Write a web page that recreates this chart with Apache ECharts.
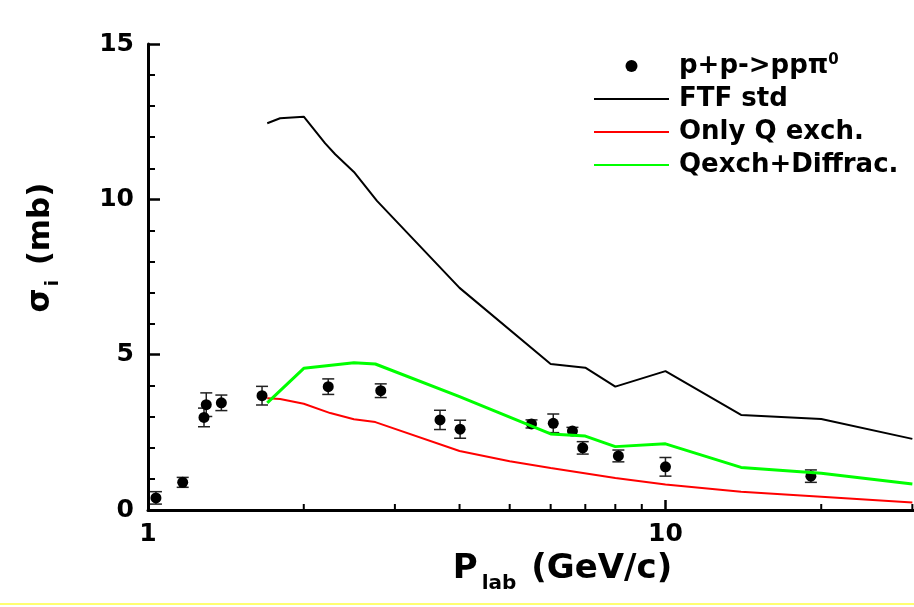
<!DOCTYPE html>
<html>
<head>
<meta charset="utf-8">
<script src="https://cdn.jsdelivr.net/npm/echarts@6/dist/echarts.min.js"></script>
<style>
  html, body { margin: 0; padding: 0; background: #ffffff; }
  #chart { width: 914px; height: 607px; }
</style>
</head>
<body>
<div id="chart"></div>
<script>
// Measured p+p -> pp pi0 cross sections (mb) vs beam momentum (GeV/c)
const dataP     = [1.036, 1.167, 1.283, 1.296, 1.386, 1.661, 2.23, 2.817, 3.667, 4.01, 5.51, 6.07, 6.61, 6.92, 8.11, 10.0, 19.1];
const dataSigma = [0.39, 0.89, 2.98, 3.39, 3.45, 3.68, 3.97, 3.84, 2.90, 2.60, 2.77, 2.79, 2.54, 2.00, 1.74, 1.39, 1.09];
const dataErr   = [0.20, 0.16, 0.30, 0.38, 0.25, 0.30, 0.25, 0.22, 0.31, 0.29, 0.13, 0.30, 0.12, 0.20, 0.19, 0.30, 0.20];

// FTF model curves
const ftfP     = [1.70, 1.80, 2.0, 2.2, 2.3, 2.5, 2.77, 4.0, 6.0, 7.0, 8.0, 10, 14, 20, 30];
const ftfSigma = [12.45, 12.61, 12.66, 11.80, 11.45, 10.88, 9.95, 7.15, 4.70, 4.58, 3.97, 4.47, 3.06, 2.93, 2.29];

const qexP     = [1.70, 1.80, 2.0, 2.25, 2.5, 2.75, 4.0, 5.0, 6.0, 8.0, 10, 14, 20, 30];
const qexSigma = [3.60, 3.57, 3.42, 3.12, 2.92, 2.83, 1.90, 1.57, 1.35, 1.03, 0.82, 0.59, 0.43, 0.24];

const qdP      = [1.70, 2.0, 2.5, 2.75, 4.0, 6.0, 7.0, 8.0, 10, 14, 20, 30];
const qdSigma  = [3.45, 4.56, 4.74, 4.70, 3.65, 2.45, 2.38, 2.04, 2.13, 1.37, 1.18, 0.84];

// Minor tick positions on the logarithmic momentum axis
const xMinorTicks = [2, 3, 4, 5, 6, 7, 8, 9, 20, 30];

const NAME_DATA = 'p+p->pp\u03c00';
const NAME_FTF = 'FTF std';
const NAME_QEX = 'Only Q exch.';
const NAME_QD = 'Qexch+Diffrac.';

const FONT = 'DejaVu Sans';

const zip = (xs, ys) => xs.map((x, i) => [x, ys[i]]);

const chart = echarts.init(document.getElementById('chart'), null, { renderer: 'canvas' });

chart.setOption({
  animation: false,
  backgroundColor: '#ffffff',
  grid: {
    left: 148, top: 44, height: 466, width: 829,
    containLabel: false,
    outerBoundsMode: 'none'
  },
  legend: {
    orient: 'vertical',
    left: 593,
    top: 53,
    padding: 0,
    itemWidth: 75,
    itemHeight: 12,
    itemGap: 7,
    selectedMode: false,
    data: [
      { name: NAME_DATA },
      { name: NAME_FTF, itemStyle: { opacity: 0 } },
      { name: NAME_QEX, itemStyle: { opacity: 0 } },
      { name: NAME_QD, itemStyle: { opacity: 0 } }
    ],
    formatter: function (name) {
      if (name === NAME_DATA) return '{t|p+p->pp\u03c0}{sup|0}';
      return '{t|' + name + '}';
    },
    textStyle: {
      fontFamily: FONT,
      fontWeight: 'bold',
      fontSize: 26,
      color: '#000',
      padding: [0, 0, 0, 5],
      rich: {
        t: { fontFamily: FONT, fontWeight: 'bold', fontSize: 26, lineHeight: 26, color: '#000' },
        sup: { fontFamily: FONT, fontWeight: 'bold', fontSize: 15, lineHeight: 15, color: '#000', verticalAlign: 'top' }
      }
    }
  },
  xAxis: {
    type: 'log',
    logBase: 10,
    min: 1,
    max: 40,
    axisLine: { lineStyle: { color: '#000', width: 3 } },
    axisTick: { inside: true, length: 10, lineStyle: { color: '#000', width: 2.5 } },
    splitLine: { show: false },
    axisLabel: {
      fontFamily: FONT, fontWeight: 'bold', fontSize: 25, color: '#000',
      margin: 12, showMaxLabel: false
    },
    name: '{m|P}{s|lab}{m| (GeV/c)}',
    nameLocation: 'middle',
    nameGap: 36,
    nameTextStyle: {
      rich: {
        m: { fontFamily: FONT, fontWeight: 'bold', fontSize: 34, lineHeight: 42, color: '#000', verticalAlign: 'top' },
        s: { fontFamily: FONT, fontWeight: 'bold', fontSize: 20, lineHeight: 42, color: '#000', verticalAlign: 'bottom', padding: [0, 3, 0, 4] }
      }
    }
  },
  yAxis: {
    type: 'value',
    min: 0,
    max: 15,
    interval: 5,
    axisLine: { show: true, lineStyle: { color: '#000', width: 3 } },
    axisTick: { inside: true, length: 12, lineStyle: { color: '#000', width: 2.5 } },
    minorTick: { show: true, splitNumber: 5, length: 7, lineStyle: { color: '#000', width: 2 } },
    splitLine: { show: false },
    minorSplitLine: { show: false },
    axisLabel: { fontFamily: FONT, fontWeight: 'bold', fontSize: 25, color: '#000', margin: 14 },
    name: '{m|\u03c3}{s|i}{m| (mb)}',
    nameLocation: 'middle',
    nameGap: 86,
    nameTextStyle: {
      padding: [0, 0, 0, 59],
      rich: {
        m: { fontFamily: FONT, fontWeight: 'bold', fontSize: 31, lineHeight: 37, color: '#000', verticalAlign: 'top' },
        s: { fontFamily: FONT, fontWeight: 'bold', fontSize: 18, lineHeight: 37, color: '#000', verticalAlign: 'bottom', padding: [0, 4, 0, 2] }
      }
    }
  },
  graphic: [
    {
      type: 'line',
      silent: true,
      shape: { x1: 0, y1: 604, x2: 914, y2: 604 },
      style: { stroke: '#ffff70', lineWidth: 2 }
    }
  ],
  series: [
    {
      // minor ticks of the log axis at 2..9, 20, 30
      name: 'xMinor',
      type: 'custom',
      silent: true,
      clip: false,
      z: 5,
      data: xMinorTicks.map(v => [v, 0]),
      encode: { x: 0, y: 1 },
      renderItem: function (params, api) {
        const p = api.coord([api.value(0), 0]);
        return {
          type: 'line',
          shape: { x1: p[0], y1: p[1], x2: p[0], y2: p[1] - 6 },
          style: { stroke: '#000', lineWidth: 2 }
        };
      }
    },
    {
      // error bars of the measured points
      name: 'errors',
      type: 'custom',
      silent: true,
      z: 3,
      data: dataP.map((x, i) => [x, dataSigma[i] - dataErr[i], dataSigma[i] + dataErr[i]]),
      encode: { x: 0, y: [1, 2] },
      renderItem: function (params, api) {
        const lo = api.coord([api.value(0), api.value(1)]);
        const hi = api.coord([api.value(0), api.value(2)]);
        const hw = 6;
        const st = { stroke: '#222', lineWidth: 1.5 };
        return {
          type: 'group',
          children: [
            { type: 'line', shape: { x1: lo[0], y1: lo[1], x2: hi[0], y2: hi[1] }, style: st },
            { type: 'line', shape: { x1: lo[0] - hw, y1: lo[1], x2: lo[0] + hw, y2: lo[1] }, style: st },
            { type: 'line', shape: { x1: hi[0] - hw, y1: hi[1], x2: hi[0] + hw, y2: hi[1] }, style: st }
          ]
        };
      }
    },
    {
      name: NAME_DATA,
      type: 'scatter',
      symbol: 'circle',
      symbolSize: 11,
      z: 4,
      itemStyle: { color: '#000', opacity: 1 },
      data: zip(dataP, dataSigma)
    },
    {
      name: NAME_FTF,
      type: 'line',
      symbol: 'none',
      z: 6,
      lineStyle: { color: '#000', width: 2 },
      itemStyle: { color: '#000' },
      data: zip(ftfP, ftfSigma)
    },
    {
      name: NAME_QEX,
      type: 'line',
      symbol: 'none',
      z: 6,
      lineStyle: { color: '#ff0000', width: 2 },
      itemStyle: { color: '#ff0000' },
      data: zip(qexP, qexSigma)
    },
    {
      name: NAME_QD,
      type: 'line',
      symbol: 'none',
      z: 6,
      lineStyle: { color: '#00ff00', width: 3 },
      itemStyle: { color: '#00ff00' },
      data: zip(qdP, qdSigma)
    }
  ]
});
</script>
</body>
</html>
